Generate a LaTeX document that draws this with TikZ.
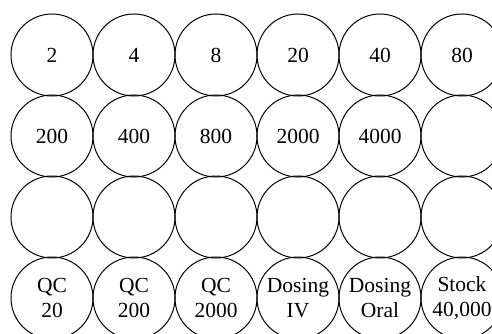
\documentclass[tikz,border=0pt]{standalone}
\usepackage{fontspec}
\setmainfont{Liberation Serif}
\begin{document}
\begin{tikzpicture}[x=1pt,y=-1pt,
  well/.style={draw=black, line width=1pt, circle, minimum size=82pt, inner sep=0pt,
    align=center, font=\fontsize{21.5}{25}\selectfont}]
\useasboundingbox (0,0) rectangle (492,334);
\clip (0,0) rectangle (492,334);
\node[well] (a1) at (52,55) {2};
\node[well] (a2) at (134,55) {4};
\node[well] (a3) at (216,55) {8};
\node[well] (a4) at (298,55) {20};
\node[well] (a5) at (380,55) {40};
\node[well] (a6) at (462,55) {80};
\node[well] (b1) at (52,136) {200};
\node[well] (b2) at (134,136) {400};
\node[well] (b3) at (216,136) {800};
\node[well] (b4) at (298,136) {2000};
\node[well] (b5) at (380,136) {4000};
\node[well] (b6) at (462,136) {};
\node[well] (c1) at (52,217) {};
\node[well] (c2) at (134,217) {};
\node[well] (c3) at (216,217) {};
\node[well] (c4) at (298,217) {};
\node[well] (c5) at (380,217) {};
\node[well] (c6) at (462,217) {};
\node[well] (d1) at (52,298) {QC\\20};
\node[well] (d2) at (134,298) {QC\\200};
\node[well] (d3) at (216,298) {QC\\2000};
\node[well] (d4) at (298,298) {Dosing\\IV};
\node[well] (d5) at (380,298) {Dosing\\Oral};
\node[well] (d6) at (462,298) {Stock\\40,000};
\end{tikzpicture}
\end{document}
